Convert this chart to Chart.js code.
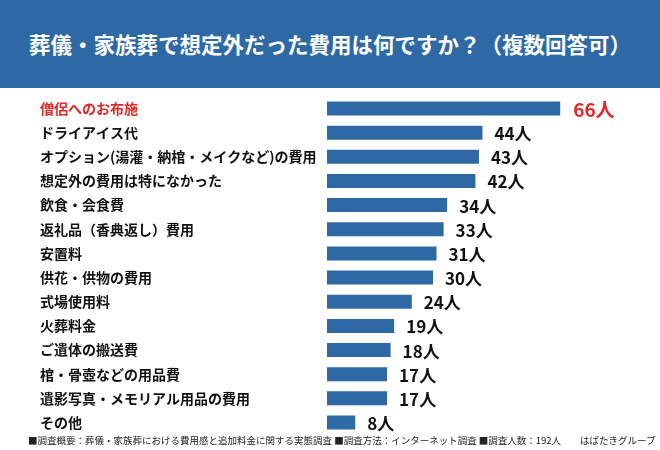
<!DOCTYPE html>
<html lang="ja">
<head>
<meta charset="utf-8">
<script src="https://cdn.jsdelivr.net/npm/chart.js@4.4.0/dist/chart.umd.min.js"></script>
<style>
  html, body { margin: 0; padding: 0; background: #fff; }
  body { width: 660px; height: 450px; position: relative; overflow: hidden;
         font-family: "Noto Sans CJK JP", "Noto Sans", sans-serif; }
  #header { position: absolute; left: 0; top: 0; width: 660px; height: 88px;
            background: #2e69a5; color: #fff; font-weight: bold; font-size: 21.5px;
            line-height: 88px; text-align: center; }
  #wrap { position: absolute; left: 0; top: 88px; width: 660px; height: 355px; }
  #footer { position: absolute; left: 28px; top: 433px; font-size: 9.5px; color: #222; white-space: nowrap; }
  #credit { position: absolute; left: 580px; top: 433px; font-size: 9.5px; color: #222; }
</style>
</head>
<body>
<div id="header">葬儀・家族葬で想定外だった費用は何ですか？（複数回答可）</div>
<div id="wrap"><canvas id="chart"></canvas></div>
<div id="footer">■調査概要：葬儀・家族葬における費用感と追加料金に関する実態調査 ■調査方法：インターネット調査 ■調査人数：192人</div>
<div id="credit">はばたきグループ</div>
<script>
const categories = [
    '僧侶へのお布施',
    'ドライアイス代',
    'オプション(湯灌・納棺・メイクなど)の費用',
    '想定外の費用は特になかった',
    '飲食・会食費',
    '返礼品（香典返し）費用',
    '安置料',
    '供花・供物の費用',
    '式場使用料',
    '火葬料金',
    'ご遺体の搬送費',
    '棺・骨壺などの用品費',
    '遺影写真・メモリアル用品の費用',
    'その他'
];
const counts = [66, 44, 43, 42, 34, 33, 31, 30, 24, 19, 18, 17, 17, 8];
const unit = '人';

const barColor = '#2e68a5';
const red = '#e0282a';

// draws "66人" etc. next to each bar
const valueLabels = {
    id: 'valueLabels',
    afterDatasetsDraw(chart) {
        const ctx = chart.ctx;
        const meta = chart.getDatasetMeta(0);
        ctx.save();
        ctx.textBaseline = 'middle';
        ctx.textAlign = 'left';
        meta.data.forEach((bar, i) => {
            const first = i === 0;
            ctx.fillStyle = first ? red : '#111';
            ctx.font = 'bold ' + (first ? 19 : 17) + 'px "Noto Sans CJK JP", sans-serif';
            ctx.fillText(counts[i] + unit, bar.x + (first ? 13 : 12), bar.y + 1);
        });
        ctx.restore();
    }
};

new Chart(document.getElementById('chart'), {
    type: 'bar',
    data: {
        labels: categories,
        datasets: [{
            data: counts,
            backgroundColor: barColor,
            barPercentage: 0.58,
            categoryPercentage: 1.0
        }]
    },
    options: {
        indexAxis: 'y',
        responsive: true,
        maintainAspectRatio: false,
        animation: false,
        layout: { padding: { left: 40, right: 15, top: 8, bottom: 2 } },
        plugins: { legend: { display: false }, tooltip: { enabled: false } },
        scales: {
            x: { display: false, min: 0, max: 90 },
            y: {
                grid: { display: false },
                border: { display: false },
                afterFit(scale) { scale.width = 287; },
                afterSetDimensions(scale) { scale.paddingTop = 0; scale.paddingBottom = 0; },
                ticks: {
                    crossAlign: 'far',
                    autoSkip: false,
                    padding: 0,
                    color: (c) => c.index === 0 ? red : '#111',
                    font: { size: 14, weight: 'bold', family: '"Noto Sans CJK JP", sans-serif' }
                }
            }
        }
    },
    plugins: [valueLabels]
});
</script>
</body>
</html>
